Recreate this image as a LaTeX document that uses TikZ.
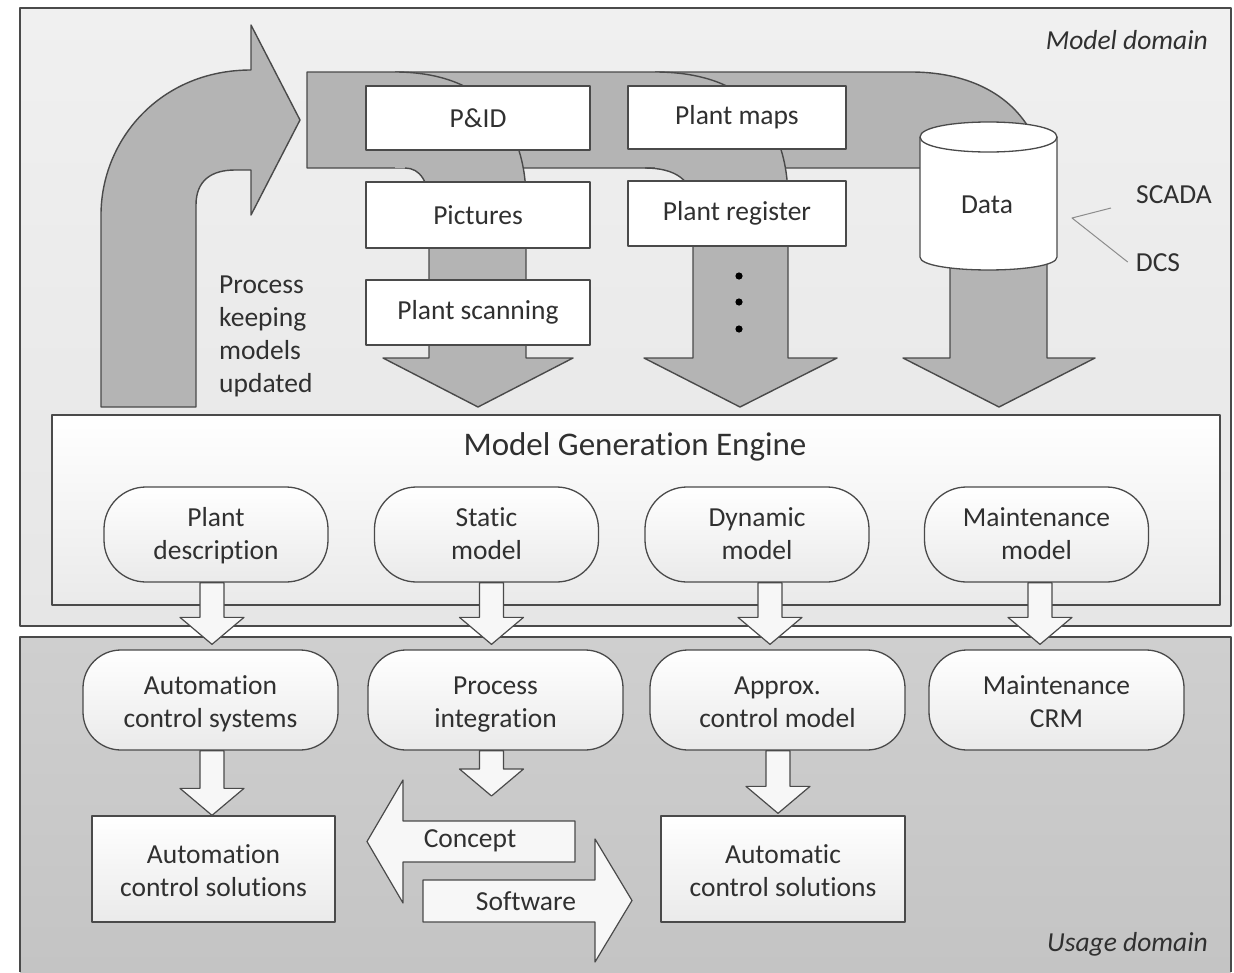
\documentclass[tikz,border=0pt]{standalone}
\usepackage{fontspec}
\setmainfont[Ligatures=NoCommon]{Carlito}
\usetikzlibrary{calc}

\definecolor{inkline}{HTML}{4A4A4A}
\definecolor{inktext}{HTML}{303030}
\definecolor{topbg}{HTML}{F0F0F0}
\definecolor{topbgb}{HTML}{E6E6E6}
\definecolor{lowbg}{HTML}{CFCFCF}
\definecolor{lowbgb}{HTML}{C4C4C4}
\definecolor{flowgrey}{HTML}{B4B4B4}
\definecolor{paleface}{HTML}{F7F7F7}
\definecolor{paleshade}{HTML}{EAEAEA}
\definecolor{wireline}{HTML}{8C8C8C}

\newcommand\txtsize{\fontsize{27.5}{33}\selectfont}
\newcommand\ttlsize{\fontsize{33}{40}\selectfont}

% white block arrow pointing down: #1 x position, #2 start anchor,
% #3 end anchor, #4 gap left between the tip and the end anchor
\newcommand\blockdown[4]{%
  \path[whitearrow] let \p3=(#1,0), \p1=(#2), \p2=(#3) in
    (\x3-12pt,\y1) -- (\x3-12pt,\y2+#4+27pt) -- (\x3-32pt,\y2+#4+27pt)
    -- (\x3,\y2+#4) -- (\x3+32pt,\y2+#4+27pt) -- (\x3+12pt,\y2+#4+27pt)
    -- (\x3+12pt,\y1) -- cycle;}

\begin{document}
\begin{tikzpicture}[x=1pt,y=-1pt,line join=round,
  every node/.style={text=inktext,font=\txtsize,inner sep=0pt},
  areaedge/.style={draw=inkline,line width=1.6pt},
  flow/.style={fill=flowgrey,draw=inkline,line width=1.4pt},
  flowfill/.style={fill=flowgrey},
  flowline/.style={draw=inkline,line width=1.4pt},
  srcbox/.style={draw=inkline,line width=1.6pt,fill=white,minimum width=224pt,minimum height=64pt},
  modelnode/.style={draw=inkline,line width=1.3pt,top color=white,bottom color=paleshade,
    rounded corners=42pt,minimum width=224pt,minimum height=95pt,align=center,
    text height=59pt,text depth=10pt},
  usenode/.style={draw=inkline,line width=1.3pt,top color=white,bottom color=paleshade,
    rounded corners=38pt,minimum width=255pt,minimum height=100pt,align=center,
    text height=63pt,text depth=9pt},
  solbox/.style={draw=inkline,line width=1.3pt,top color=white,bottom color=paleshade,
    minimum width=243pt,minimum height=106pt,align=center,
    text height=63pt,text depth=8pt},
  whitearrow/.style={draw=inkline,line width=1.2pt,fill=paleface},
  cyl/.style={draw=inkline,line width=1.3pt,fill=white},
  wire/.style={draw=wireline,line width=1pt}]

\useasboundingbox (0,0) rectangle (1234,972);
\fill[white] (0,0) rectangle (1234,972);

% the two domains
\path[areaedge,top color=topbg,bottom color=topbgb] (20,8) rectangle (1231,626);
\fill[top color=lowbg,bottom color=lowbgb] (20,637) rectangle (1231,972);
\draw[areaedge] (20,972) -- (20,637) -- (1231,637) -- (1231,972);
\node[anchor=east,font=\txtsize\itshape] (mdom) at (1208,40) {Model domain};
\node[anchor=east,font=\txtsize\itshape] (udom) at (1208,944) {Usage domain};

% update loop arrow
\path[flow] (101,407) -- (101,215) .. controls (101,140) and (160,70) .. (251,70)
  -- (251,25) -- (300,120) -- (251,215) -- (251,170) -- (235,170)
  .. controls (212,170) and (196,180) .. (196,205) -- (196,407) -- cycle;

% feed band, bending down through the data store
\path[flow] (307,72) -- (911,72) .. controls (985,72) and (1047,110) .. (1047,200)
  -- (1047,358) -- (1095,358) -- (999,407) -- (903,358) -- (950,358) -- (950,200)
  .. controls (950,180) and (940,168) .. (925,168) -- (307,168) -- cycle;

% first branch
\fill[flowfill] (395,72) .. controls (480,72) and (526,120) .. (526,200) -- (526,358)
  -- (573,358) -- (478,407) -- (383,358) -- (429,358) -- (429,205)
  .. controls (429,182) and (420,168) .. (405,168) -- (395,168) -- cycle;
\draw[flowline] (395,72) .. controls (480,72) and (526,120) .. (526,200) -- (526,358)
  -- (573,358) -- (478,407) -- (383,358) -- (429,358) -- (429,205)
  .. controls (429,182) and (420,168) .. (405,168);

% second branch
\fill[flowfill] (655,72) .. controls (745,72) and (788,120) .. (788,200) -- (788,358)
  -- (837,358) -- (740,407) -- (644,358) -- (693,358) -- (693,205)
  .. controls (693,180) and (675,168) .. (645,168) -- (655,168) -- cycle;
\draw[flowline] (655,72) .. controls (745,72) and (788,120) .. (788,200) -- (788,358)
  -- (837,358) -- (740,407) -- (644,358) -- (693,358) -- (693,205)
  .. controls (693,180) and (675,168) .. (645,168);

% sources
\node[srcbox] (pid) at (478,118) {P\&ID};
\node[srcbox,minimum height=66pt] (pic) at (478,215) {Pictures};
\node[srcbox,minimum height=65pt] (scan) at (478,312.5) {Plant scanning};
\node[srcbox,minimum width=218pt,minimum height=63pt] (maps) at (737,117.5) {Plant maps};
\node[srcbox,minimum width=218pt,minimum height=65pt] (reg) at (737,213.5) {Plant register};
\fill[black] (739,276) circle[radius=3.6pt] (739,302) circle[radius=3.6pt] (739,329) circle[radius=3.6pt];

% data store
\path[cyl] (920,137) -- (920,257) .. controls (920,274.3) and (1057,274.3) .. (1057,257)
  -- (1057,137) .. controls (1057,117) and (920,117) .. (920,137) -- cycle;
\draw[cyl] (920,137) .. controls (920,157) and (1057,157) .. (1057,137);
\node (data) at (987,205) {Data};
\node (scada) at (1174,195) {SCADA};
\node (dcs) at (1158,263) {DCS};
\coordinate (fork) at (1072,218);
\draw[wire] ([shift={(-25,13)}]scada.west) -- (fork) -- ([shift={(-8,-1)}]dcs.west);

\node[anchor=west,align=left] (keep) at (219,336) {Process\\keeping\\models\\updated};

% model generation engine
\node[draw=inkline,line width=1.4pt,top color=white,bottom color=paleshade,
  minimum width=1168pt,minimum height=190pt] (engine) at (636,510) {};
\node[font=\ttlsize] (mge) at (635,447) {Model Generation Engine};
\node[modelnode] (pd) at (216,534.5) {Plant\\description};
\node[modelnode] (sm) at (486.5,534.5) {Static\\model};
\node[modelnode] (dm) at (757,534.5) {Dynamic\\model};
\node[modelnode] (mm) at (1036.5,534.5) {Maintenance\\model};

% usage
\node[usenode] (acs) at (210.5,700) {Automation\\control systems};
\node[usenode] (pi) at (495.5,700) {Process\\integration};
\node[usenode] (ap) at (777.5,700) {Approx.\\control model};
\node[usenode] (crm) at (1056.5,700) {Maintenance\\CRM};
\node[solbox] (acsol) at (213.5,869) {Automation\\control solutions};
\node[solbox,minimum width=244pt] (autsol) at (783,869) {Automatic\\control solutions};
\coordinate (pitip) at (491.5,796);

\blockdown{212}{pd.south}{acs.north}{5pt}
\blockdown{491.5}{sm.south}{pi.north}{5pt}
\blockdown{770}{dm.south}{ap.north}{5pt}
\blockdown{1040}{mm.south}{crm.north}{5pt}
\blockdown{212}{acs.south}{acsol.north}{0pt}
\blockdown{491.5}{pi.south}{pitip}{0pt}
\blockdown{778}{ap.south}{autsol.north}{2pt}

% concept / software exchange
\path[whitearrow] (575,821) -- (403,821) -- (403,780) -- (367,841.5) -- (403,903)
  -- (403,862) -- (575,862) -- cycle;
\path[whitearrow] (423,880) -- (595,880) -- (595,839) -- (632,900.5) -- (595,962)
  -- (595,922) -- (423,922) -- cycle;
\node (concept) at (470,841) {Concept};
\node (software) at (526,901) {Software};

\end{tikzpicture}
\end{document}
